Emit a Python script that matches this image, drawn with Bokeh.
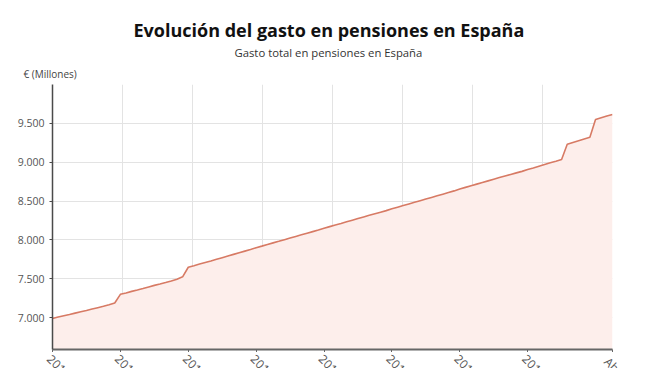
import math
from bokeh.plotting import figure
from bokeh.layouts import column
from bokeh.models import ColumnDataSource, FixedTicker, Range1d, Title, LabelSet
from bokeh.core.properties import value
from bokeh.embed import file_html
from bokeh.resources import INLINE

# ---------------- data ----------------
gasto_2011 = [6988, 7007, 7024, 7040, 7058, 7075, 7092, 7110, 7128, 7146, 7165, 7188]
gasto_2012 = [7300, 7318, 7338, 7356, 7375, 7395, 7415, 7433, 7452, 7472, 7495, 7525]
gasto_2013 = [7648, 7668, 7689, 7710, 7730, 7751, 7772, 7793, 7814, 7835, 7856, 7876]
gasto_2014 = [7900, 7920, 7941, 7962, 7982, 8003, 8024, 8045, 8066, 8087, 8107, 8127]
gasto_2015 = [8150, 8171, 8192, 8212, 8233, 8254, 8275, 8296, 8317, 8337, 8357, 8377]
gasto_2016 = [8400, 8421, 8442, 8463, 8484, 8505, 8526, 8547, 8568, 8589, 8610, 8631]
gasto_2017 = [8655, 8676, 8697, 8718, 8739, 8760, 8781, 8802, 8823, 8843, 8863, 8882]
gasto_2018 = [8905, 8926, 8948, 8970, 8992, 9013, 9036, 9230, 9253, 9276, 9298, 9320]
gasto_2019 = [9550, 9572, 9594, 9615]

gasto = (gasto_2011 + gasto_2012 + gasto_2013 + gasto_2014 + gasto_2015 +
         gasto_2016 + gasto_2017 + gasto_2018 + gasto_2019)
meses = list(range(len(gasto)))  # 0 = Ene 2011 ... 99 = Abr 2019

x_tick_pos = [0, 12, 24, 36, 48, 60, 72, 84, 99]
x_tick_labels = ["2011", "2012", "2013", "2014", "2015", "2016", "2017", "2018", "Abr 2019"]
y_ticks = [7000, 7500, 8000, 8500, 9000, 9500]
y_tick_labels = ["7.000", "7.500", "8.000", "8.500", "9.000", "9.500"]
y_min, y_max = 6590, 10000

title_text = "Evolución del gasto en pensiones en España"
subtitle_text = "Gasto total en pensiones en España"
unit_text = "€ (Millones)"

FONT = "Open Sans"
W = 656
BORDER_L, BORDER_R = 52, 44
MAIN_H, LABEL_H = 352, 16

# ---------------- main figure ----------------
p = figure(width=W, height=MAIN_H, output_backend="svg", toolbar_location=None,
           x_range=Range1d(meses[0], meses[-1]), y_range=Range1d(y_min, y_max),
           min_border_left=BORDER_L, min_border_right=BORDER_R,
           min_border_top=84, min_border_bottom=3)
p.outline_line_color = None
p.background_fill_color = "white"
p.border_fill_color = "white"

src = ColumnDataSource(dict(x=meses, y=gasto, base=[y_min] * len(gasto)))
p.varea(x="x", y1="base", y2="y", source=src, fill_color="#fdeeeb", fill_alpha=1.0)
p.line(x="x", y="y", source=src, line_color="#d77a64", line_width=1.6)

# y axis
p.yaxis.ticker = FixedTicker(ticks=y_ticks)
p.yaxis.major_label_overrides = {t: l for t, l in zip(y_ticks, y_tick_labels)}
p.yaxis.major_label_text_font = FONT
p.yaxis.major_label_text_font_size = "10.5px"
p.yaxis.major_label_text_color = "#555555"
p.yaxis.axis_line_color = "#4a4a4a"
p.yaxis.axis_line_width = 1.5
p.yaxis.major_tick_line_color = "#4a4a4a"
p.yaxis.major_tick_out = 3
p.yaxis.major_tick_in = 0
p.yaxis.minor_tick_line_color = None
p.yaxis.major_label_standoff = 5

# x axis: line and ticks only (labels drawn in the strip below)
xa = p.xaxis[0]
xa.ticker = FixedTicker(ticks=x_tick_pos)
xa.major_label_overrides = {t: "" for t in x_tick_pos}
xa.major_label_text_font_size = "0px"
xa.major_label_standoff = 0
xa.axis_line_color = "#666666"
xa.axis_line_width = 2
xa.major_tick_line_color = "#666666"
xa.major_tick_out = 3
xa.major_tick_in = 0
xa.minor_tick_line_color = None

# grids
n_grid = 8
span = meses[-1] - meses[0]
p.xgrid.ticker = FixedTicker(ticks=[meses[0] + span * i / n_grid for i in range(1, n_grid + 1)])
p.xgrid.grid_line_color = "#e3e3e3"
p.xgrid.grid_line_width = 1
p.ygrid.ticker = FixedTicker(ticks=y_ticks)
p.ygrid.grid_line_color = "#e3e3e3"
p.ygrid.grid_line_width = 1

# titles (first added = closest to the frame)
p.add_layout(Title(text=unit_text, align="left", offset=-29, standoff=7,
                   text_font=FONT, text_font_size="10px", text_font_style="normal",
                   text_color="#444444"), "above")
p.add_layout(Title(text=subtitle_text, align="left", offset=182, standoff=3,
                   text_font=FONT, text_font_size="11.3px", text_font_style="normal",
                   text_color="#333333"), "above")
p.add_layout(Title(text=title_text, align="left", offset=81, standoff=0,
                   text_font=FONT, text_font_size="18px", text_font_style="bold",
                   text_color="#111111"), "above")

# ---------------- strip with the rotated x tick labels ----------------
px_per_unit = (W - BORDER_L - BORDER_R) / span
p2 = figure(width=W, height=LABEL_H, output_backend="svg", toolbar_location=None,
            x_range=Range1d(meses[0] - BORDER_L / px_per_unit, meses[-1] + BORDER_R / px_per_unit),
            y_range=Range1d(0, 1), x_axis_type=None, y_axis_type=None,
            min_border=0, min_border_left=0, min_border_right=0,
            min_border_top=0, min_border_bottom=0)
if "frame_align" in p2.properties():
    p2.frame_align = False
if "frame_align" in p.properties():
    p.frame_align = False
p2.outline_line_color = None
p2.background_fill_color = "white"
p2.border_fill_color = "white"
p2.grid.visible = False

lab_src = ColumnDataSource(dict(x=x_tick_pos, y=[1] * len(x_tick_pos), t=x_tick_labels))
p2.add_layout(LabelSet(x="x", y="y", text="t", source=lab_src, y_offset=-1, x_offset=0,
                       angle=-45, angle_units="deg", text_align="left", text_baseline="top",
                       text_font=value(FONT), text_font_size="12px", text_color="#555555"))

layout = column(p, p2, spacing=0)
open("out.html", "w").write(file_html(layout, INLINE))
